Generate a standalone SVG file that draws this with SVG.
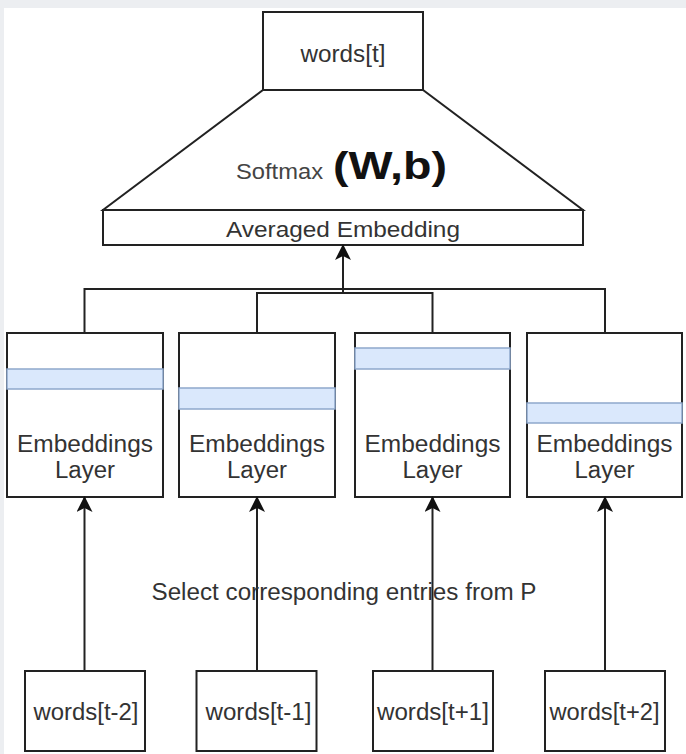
<svg xmlns="http://www.w3.org/2000/svg" width="686" height="754" viewBox="0 0 686 754">
<style>
.box{fill:#ffffff;stroke:#222222;stroke-width:2}
.stripe{fill:#dae8fc;stroke:#8ea8cc;stroke-width:1.5}
.lbl{font-family:"Liberation Sans",Arial,sans-serif;font-size:23px;fill:#333333;text-anchor:middle}
.edge{fill:none;stroke:#222222;stroke-width:2}
</style>
<defs>
<marker id="arr" viewBox="0 0 16 16" refX="15" refY="8" markerWidth="16" markerHeight="16" markerUnits="userSpaceOnUse" orient="auto">
<path d="M0,0 L16,8 L0,16 L4,8 Z" fill="#111111"/>
</marker>
</defs>
<rect x="0" y="0" width="686" height="754" fill="#eceef1"/>
<rect x="4" y="8" width="682" height="746" fill="#ffffff"/>

<g id="softmax">
<polygon class="box" points="263,90 423,90 583,210 103,210"/>
<text x="236" y="179" class="lbl" style="text-anchor:start;fill:#444444;font-size:22px" textLength="87" lengthAdjust="spacingAndGlyphs">Softmax</text>
<text x="333" y="179" style="font-family:'Liberation Sans',Arial,sans-serif;font-size:39px;font-weight:bold;fill:#111111" textLength="114" lengthAdjust="spacingAndGlyphs">(W,b)</text>
</g>
<g id="words_t">
<rect class="box" x="263" y="12" width="160" height="78"/>
<text x="343" y="62" class="lbl" textLength="85" lengthAdjust="spacingAndGlyphs">words[t]</text>
</g>
<g id="averaged">
<rect class="box" x="103" y="210" width="480" height="35"/>
<text x="343" y="237" class="lbl" style="font-size:22px" textLength="234" lengthAdjust="spacingAndGlyphs">Averaged Embedding</text>
</g>

<g id="emb1">
<rect class="box" x="7" y="333" width="156" height="164"/>
<rect class="stripe" x="7" y="369" width="156" height="20"/>
<text x="85" y="452" class="lbl" textLength="136" lengthAdjust="spacingAndGlyphs">Embeddings</text>
<text x="85" y="478" class="lbl" textLength="60" lengthAdjust="spacingAndGlyphs">Layer</text>
</g>
<g id="emb2">
<rect class="box" x="179" y="333" width="156" height="164"/>
<rect class="stripe" x="179" y="388" width="156" height="21"/>
<text x="257" y="452" class="lbl" textLength="136" lengthAdjust="spacingAndGlyphs">Embeddings</text>
<text x="257" y="478" class="lbl" textLength="60" lengthAdjust="spacingAndGlyphs">Layer</text>
</g>
<g id="emb3">
<rect class="box" x="355" y="333" width="155" height="164"/>
<rect class="stripe" x="355" y="348" width="155" height="21"/>
<text x="432.5" y="452" class="lbl" textLength="136" lengthAdjust="spacingAndGlyphs">Embeddings</text>
<text x="432.5" y="478" class="lbl" textLength="60" lengthAdjust="spacingAndGlyphs">Layer</text>
</g>
<g id="emb4">
<rect class="box" x="527" y="333" width="155" height="164"/>
<rect class="stripe" x="527" y="403" width="155" height="20"/>
<text x="604.5" y="452" class="lbl" textLength="136" lengthAdjust="spacingAndGlyphs">Embeddings</text>
<text x="604.5" y="478" class="lbl" textLength="60" lengthAdjust="spacingAndGlyphs">Layer</text>
</g>

<g id="w1">
<rect class="box" x="25" y="671" width="120" height="80"/>
<text x="86" y="720" class="lbl" textLength="105" lengthAdjust="spacingAndGlyphs">words[t-2]</text>
</g>
<g id="w2">
<rect class="box" x="196.5" y="671" width="120" height="80"/>
<text x="258.5" y="720" class="lbl" textLength="106" lengthAdjust="spacingAndGlyphs">words[t-1]</text>
</g>
<g id="w3">
<rect class="box" x="373" y="671" width="120" height="80"/>
<text x="433" y="720" class="lbl" textLength="112" lengthAdjust="spacingAndGlyphs">words[t+1]</text>
</g>
<g id="w4">
<rect class="box" x="545" y="671" width="120" height="80"/>
<text x="604.5" y="720" class="lbl" textLength="110" lengthAdjust="spacingAndGlyphs">words[t+2]</text>
</g>

<g id="connectors">
<path class="edge" d="M84.5,333 V289 H605 V333"/>
<path class="edge" d="M257,333 V293 H432.5 V333"/>
<path class="edge" d="M343,293 V245" marker-end="url(#arr)"/>
<path class="edge" d="M84.5,671 V497" marker-end="url(#arr)"/>
<path class="edge" d="M257,671 V497" marker-end="url(#arr)"/>
<path class="edge" d="M432.5,671 V497" marker-end="url(#arr)"/>
<path class="edge" d="M605,671 V497" marker-end="url(#arr)"/>
</g>
<text x="151.5" y="600" class="lbl" style="text-anchor:start" textLength="385" lengthAdjust="spacingAndGlyphs">Select corresponding entries from P</text>
</svg>
